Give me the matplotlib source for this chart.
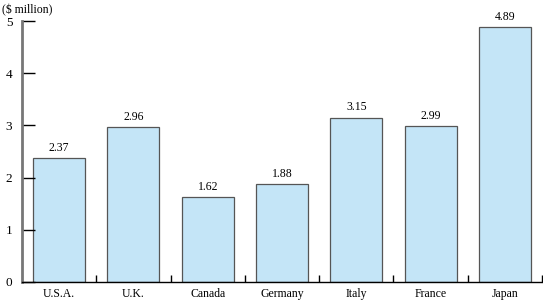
import numpy as np
import matplotlib.pyplot as plt

countries = ['U.S.A.', 'U.K.', 'Canada', 'Germany', 'Italy', 'France', 'Japan']
values = [2.37, 2.96, 1.62, 1.88, 3.15, 2.99, 4.89]
yticks = [0, 1, 2, 3, 4, 5]

plt.rcParams['font.family'] = ['Liberation Serif', 'DejaVu Serif']

fig = plt.figure(figsize=(5.43, 3.01), dpi=100)
ax = fig.add_axes([22 / 543, 1 - 282 / 301, 520 / 543, 261 / 301])

x = np.arange(len(countries))
ax.bar(x, values, width=0.7, color='#c4e5f7', edgecolor='#555555', linewidth=0.9)

# value labels above bars
for xi, v in zip(x, values):
    ax.text(xi, v + 0.08, '%.2f' % v, ha='center', va='bottom', fontsize=8.5)

ax.set_xlim(-0.5, len(countries) - 0.5)
ax.set_ylim(0, 5)

ax.set_yticks(yticks)
ax.set_yticklabels([str(t) for t in yticks], fontsize=9.5)
ax.tick_params(axis='y', direction='in', length=9, width=1, pad=7, color='black')

# x: category labels at centres, ticks at boundaries
ax.set_xticks(x)
ax.set_xticklabels(countries, fontsize=8.5)
ax.tick_params(axis='x', which='major', length=0, pad=4)
ax.set_xticks(np.arange(0.5, len(countries), 1.0), minor=True)
ax.tick_params(axis='x', which='minor', direction='in', length=5, width=1, color='black')

for s in ['top', 'right']:
    ax.spines[s].set_visible(False)
ax.spines['left'].set_color('#777777')
ax.spines['left'].set_linewidth(2)
ax.spines['bottom'].set_color('black')
ax.spines['bottom'].set_linewidth(1)

fig.text(2 / 543, 1 - 10 / 301, '($ million)', ha='left', va='center', fontsize=8.5)

fig.savefig('out.png', dpi=100)
